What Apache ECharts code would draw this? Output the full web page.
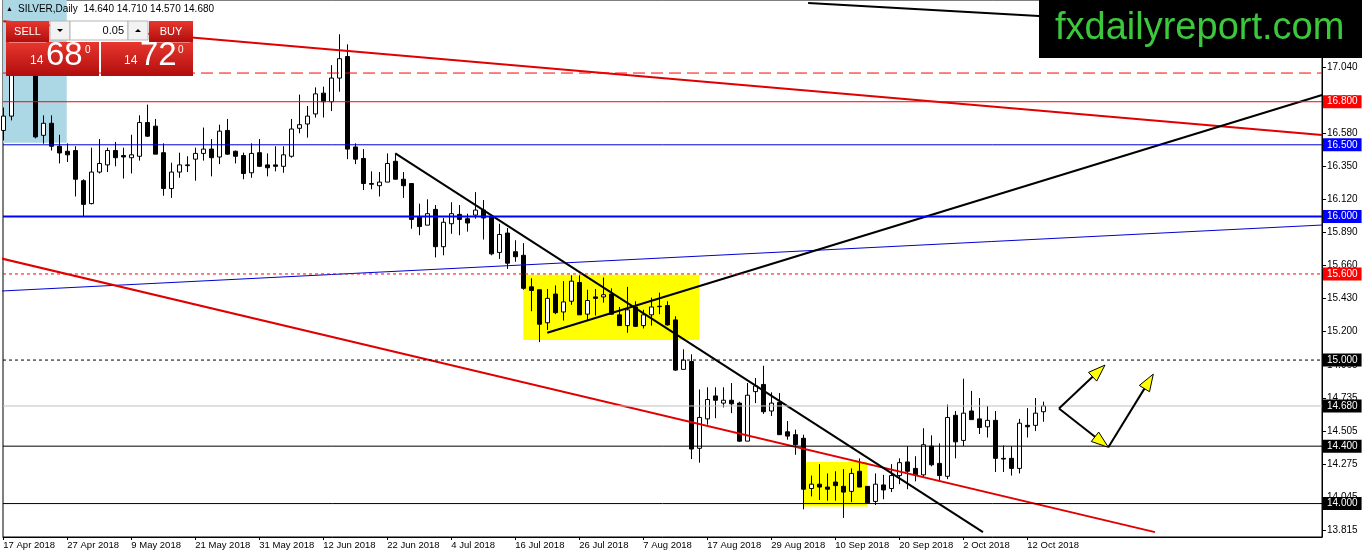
<!DOCTYPE html>
<html>
<head>
<meta charset="utf-8">
<title>SILVER,Daily</title>
<script src="https://cdn.jsdelivr.net/npm/echarts@6/dist/echarts.min.js"></script>
<style>
  html, body { margin: 0; padding: 0; background: #fff; }
  #main { width: 1362px; height: 554px; }
</style>
</head>
<body>
<div id="main"></div>
<script>
// daily bars, index 0 = 17 Apr 2018, last = 16 Oct 2018
var opens = [
  16.60, 16.70, 17.00, 17.15, 17.06, 16.566, 16.65, 16.49, 16.455, 16.46,
  16.25, 16.09, 16.31, 16.36, 16.46, 16.425, 16.41, 16.42, 16.655, 16.63,
  16.445, 16.195, 16.31, 16.355, 16.40, 16.44, 16.47, 16.415, 16.60, 16.455,
  16.425, 16.305, 16.445, 16.36, 16.36, 16.35, 16.42, 16.615, 16.645, 16.715,
  16.86, 16.80, 16.965, 17.115, 16.485, 16.405, 16.23, 16.215, 16.24, 16.385,
  16.26, 16.23, 16.00, 15.94, 16.05, 15.79, 15.95, 16.015, 15.985, 16.01,
  16.045, 16.00, 15.75, 15.885, 15.755, 15.73, 15.51, 15.49, 15.26, 15.46,
  15.335, 15.41, 15.54, 15.32, 15.44, 15.44, 15.46, 15.315, 15.24, 15.37,
  15.24, 15.315, 15.372, 15.38, 15.28, 14.935, 14.99, 14.385, 14.59, 14.75,
  14.70, 14.72, 14.70, 14.435, 14.78, 14.83, 14.645, 14.705, 14.50, 14.48,
  14.455, 14.105, 14.135, 14.115, 14.15, 14.12, 14.085, 14.225, 14.12, 14.015,
  14.13, 14.105, 14.195, 14.29, 14.245, 14.20, 14.40, 14.28, 14.19, 14.615,
  14.44, 14.645, 14.59, 14.535, 14.58, 14.315, 14.315, 14.245, 14.545, 14.545,
  14.64
];
var highs = [
  16.76, 17.10, 17.25, 17.22, 17.12, 16.705, 16.705, 16.57, 16.51, 16.49,
  16.26, 16.48, 16.54, 16.48, 16.52, 16.48, 16.57, 16.705, 16.78, 16.68,
  16.51, 16.375, 16.445, 16.42, 16.48, 16.62, 16.54, 16.64, 16.68, 16.46,
  16.445, 16.51, 16.54, 16.44, 16.49, 16.49, 16.68, 16.85, 16.77, 16.90,
  16.905, 17.055, 17.27, 17.20, 16.51, 16.47, 16.315, 16.31, 16.44, 16.44,
  16.31, 16.23, 16.09, 16.12, 16.08, 15.99, 16.10, 16.08, 16.02, 16.17,
  16.115, 16.01, 15.95, 15.92, 15.835, 15.815, 15.57, 15.49, 15.495, 15.52,
  15.55, 15.59, 15.59, 15.49, 15.495, 15.575, 15.50, 15.37, 15.51, 15.41,
  15.35, 15.435, 15.47, 15.41, 15.305, 15.075, 15.04, 14.795, 14.81, 14.81,
  14.81, 14.84, 14.71, 14.84, 14.875, 14.96, 14.775, 14.77, 14.575, 14.515,
  14.48, 14.195, 14.275, 14.21, 14.225, 14.24, 14.245, 14.315, 14.12, 14.21,
  14.20, 14.275, 14.315, 14.40, 14.33, 14.525, 14.475, 14.42, 14.69, 14.645,
  14.87, 14.785, 14.735, 14.68, 14.645, 14.405, 14.40, 14.59, 14.665, 14.735,
  14.71
];
var lows = [
  16.53, 16.67, 16.99, 17.02, 16.545, 16.508, 16.46, 16.37, 16.38, 16.14,
  16.00, 16.085, 16.30, 16.31, 16.35, 16.265, 16.30, 16.39, 16.555, 16.435,
  16.145, 16.13, 16.27, 16.31, 16.25, 16.39, 16.28, 16.365, 16.43, 16.37,
  16.26, 16.27, 16.345, 16.28, 16.315, 16.305, 16.41, 16.58, 16.55, 16.69,
  16.69, 16.735, 16.87, 16.40, 16.365, 16.185, 16.19, 16.14, 16.24, 16.26,
  16.13, 15.915, 15.87, 15.94, 15.715, 15.73, 15.88, 15.87, 15.895, 15.985,
  15.84, 15.73, 15.705, 15.635, 15.685, 15.49, 15.34, 15.125, 15.21, 15.32,
  15.275, 15.385, 15.315, 15.275, 15.31, 15.40, 15.315, 15.24, 15.19, 15.23,
  15.22, 15.24, 15.32, 15.24, 14.925, 14.935, 14.31, 14.285, 14.55, 14.595,
  14.67, 14.63, 14.43, 14.435, 14.70, 14.625, 14.61, 14.48, 14.445, 14.34,
  13.96, 14.05, 14.025, 14.02, 14.02, 13.90, 14.01, 14.115, 14.00, 13.99,
  14.03, 14.08, 14.135, 14.10, 14.155, 14.18, 14.26, 14.15, 14.17, 14.315,
  14.40, 14.585, 14.485, 14.46, 14.22, 14.22, 14.195, 14.21, 14.46, 14.505,
  14.57
];
var closes = [
  16.70, 17.02, 17.15, 17.06, 16.555, 16.65, 16.49, 16.443, 16.43, 16.26,
  16.085, 16.31, 16.37, 16.46, 16.41, 16.415, 16.43, 16.655, 16.56, 16.435,
  16.195, 16.31, 16.36, 16.36, 16.44, 16.47, 16.41, 16.595, 16.435, 16.42,
  16.30, 16.44, 16.35, 16.34, 16.35, 16.43, 16.61, 16.64, 16.70, 16.855,
  16.80, 16.965, 17.10, 16.47, 16.40, 16.23, 16.225, 16.24, 16.37, 16.26,
  16.215, 15.98, 15.93, 16.02, 15.79, 15.96, 16.02, 15.98, 15.955, 16.045,
  15.99, 15.74, 15.875, 15.675, 15.72, 15.50, 15.485, 15.25, 15.43, 15.33,
  15.405, 15.55, 15.315, 15.415, 15.43, 15.455, 15.32, 15.24, 15.35, 15.235,
  15.315, 15.37, 15.375, 15.245, 14.93, 15.00, 14.38, 14.60, 14.725, 14.72,
  14.72, 14.695, 14.435, 14.755, 14.82, 14.64, 14.70, 14.48, 14.47, 14.41,
  14.10, 14.135, 14.115, 14.10, 14.125, 14.08, 14.21, 14.115, 14.005, 14.135,
  14.095, 14.195, 14.285, 14.225, 14.20, 14.41, 14.27, 14.195, 14.60, 14.43,
  14.63, 14.585, 14.53, 14.58, 14.315, 14.31, 14.245, 14.56, 14.535, 14.63,
  14.68
];

var dateTicks = [0, 8, 16, 24, 32, 40, 48, 56, 64, 72, 80, 88, 96, 104, 112, 120, 128];
var dateLabels = ['17 Apr 2018', '27 Apr 2018', '9 May 2018', '21 May 2018', '31 May 2018',
  '12 Jun 2018', '22 Jun 2018', '4 Jul 2018', '16 Jul 2018', '26 Jul 2018', '7 Aug 2018',
  '17 Aug 2018', '29 Aug 2018', '10 Sep 2018', '20 Sep 2018', '2 Oct 2018', '12 Oct 2018'];
var priceTicks = [13.815, 14.045, 14.275, 14.505, 14.735, 14.965, 15.200, 15.430,
  15.660, 15.890, 16.120, 16.350, 16.580, 16.810, 17.040];

// horizontal levels
var levelPrices = [17.0, 16.8, 16.5, 16.0, 15.6, 15.0, 14.68, 14.4, 14.0];

// trend lines as [bar index, price] end points
var redUpperLine = [[0, 17.361], [164.84, 16.568]];
var redLowerLine = [[-1, 15.718], [143.96, 13.801]];
var blueLine = [[-1, 15.479], [164.84, 15.941]];
var blackUpLine = [[68, 15.19], [164.84, 16.847]];
var blackDownLine = [[49, 16.44], [122.46, 13.801]];
var blackTopLine = [[100.6, 17.488], [140, 17.364]];

// boxes: [from bar, top price, to bar, bottom price]
var blueBoxes = [[-1, 17.6, 7.93, 16.514]];
var yellowBoxes = [[65, 15.595, 87, 15.14], [100, 14.29, 108, 13.98]];

// arrows: [from bar, from price, to bar, to price]
var arrows = [
  [131.96, 14.663, 137.71, 14.965],
  [131.96, 14.663, 138.13, 14.392],
  [138.13, 14.392, 143.75, 14.902]
];

var FONT = "'Liberation Sans', Arial, sans-serif";
var X_MIN = -0.0375, X_MAX = 164.8375;

var candles = opens.map(function (o, i) {
  return [i, o, closes[i], lows[i], highs[i]];
});

var levelStyles = [
  { color: '#ff0000', width: 1, type: [12, 6], label: null },
  { color: '#ff0000', width: 1, type: 'solid', label: '#ff0000' },
  { color: '#0000d0', width: 1, type: 'solid', label: '#0000ff' },
  { color: '#0000ff', width: 2, type: 'solid', label: '#0000ff' },
  { color: '#ff0000', width: 1, type: [3, 3], label: '#ff0000' },
  { color: '#000000', width: 1, type: [3, 3], label: '#000000' },
  { color: '#c0c0c0', width: 1, type: 'solid', label: '#000000' },
  { color: '#000000', width: 1, type: 'solid', label: '#000000' },
  { color: '#000000', width: 1, type: 'solid', label: '#000000' }
];

var levelSeries = levelPrices.map(function (p, i) {
  var s = levelStyles[i];
  return {
    type: 'line', silent: true, symbol: 'none', showSymbol: false, z: 5,
    data: [[X_MIN, p], [X_MAX, p]],
    color: s.color,
    lineStyle: { color: s.color, width: s.width, type: s.type },
    endLabel: s.label ? {
      show: true, distance: 1,
      formatter: function () { return p.toFixed(3); },
      color: '#fff', backgroundColor: s.label,
      fontSize: 10, fontFamily: FONT, lineHeight: 11, padding: [1, 4, 1, 4]
    } : { show: false }
  };
});

function trend(data, color, width) {
  return {
    type: 'line', data: data, showSymbol: false, symbol: 'none', silent: true,
    color: color, lineStyle: { color: color, width: width }, z: 4
  };
}

function boxSeries(data, color) {
  return {
    type: 'custom', data: data, silent: true, z: 1,
    renderItem: function (params, api) {
      var a = api.coord([api.value(0), api.value(1)]);
      var b = api.coord([api.value(2), api.value(3)]);
      var cs = params.coordSys;
      var shape = echarts.graphic.clipRectByRect({
        x: Math.min(a[0], b[0]), y: Math.min(a[1], b[1]),
        width: Math.abs(b[0] - a[0]), height: Math.abs(b[1] - a[1])
      }, { x: cs.x, y: cs.y, width: cs.width, height: cs.height });
      return shape && { type: 'rect', shape: shape, style: { fill: color } };
    }
  };
}

var chart = echarts.init(document.getElementById('main'));

var redGrad = {
  type: 'linear', x: 0, y: 0, x2: 0, y2: 1,
  colorStops: [{ offset: 0, color: '#e8372e' }, { offset: 1, color: '#b10d0d' }]
};

var series = [
  boxSeries(blueBoxes, '#acd8e6'),
  boxSeries(yellowBoxes, '#ffff00'),
  {
    type: 'candlestick',
    data: candles,
    barWidth: 5,
    z: 3,
    itemStyle: {
      color: '#ffffff', color0: '#000000',
      borderColor: '#000000', borderColor0: '#000000', borderWidth: 1
    }
  },
  trend(blueLine, '#0000d0', 1),
  trend(redUpperLine, '#e00000', 2),
  trend(redLowerLine, '#e00000', 2),
  trend(blackUpLine, '#000000', 2),
  trend(blackDownLine, '#000000', 2),
  trend(blackTopLine, '#000000', 2),
  {
    type: 'custom', data: arrows, silent: true, z: 6,
    renderItem: function (params, api) {
      var a = api.coord([api.value(0), api.value(1)]);
      var b = api.coord([api.value(2), api.value(3)]);
      var dx = b[0] - a[0], dy = b[1] - a[1];
      var len = Math.sqrt(dx * dx + dy * dy);
      var ux = dx / len, uy = dy / len;
      var hl = 17, hw = 6;
      var bx = b[0] - ux * hl, by = b[1] - uy * hl;
      return {
        type: 'group',
        children: [
          { type: 'line', shape: { x1: a[0], y1: a[1], x2: bx, y2: by }, style: { stroke: '#000', lineWidth: 2 } },
          { type: 'polygon', shape: { points: [[b[0], b[1]], [bx - uy * hw, by + ux * hw], [bx + uy * hw, by - ux * hw]] },
            style: { fill: '#ffff00', stroke: '#000', lineWidth: 1 } }
        ]
      };
    }
  }
].concat(levelSeries);

var option = {
  animation: false,
  backgroundColor: '#fff',
  grid: { left: 3, right: 40, top: 0, bottom: 17, show: true, borderColor: '#000', borderWidth: 1 },
  xAxis: {
    type: 'value', min: X_MIN, max: X_MAX,
    splitLine: { show: false },
    axisLine: { onZero: false, lineStyle: { color: '#000', width: 1 } },
    axisTick: { show: true, customValues: dateTicks, length: 3, lineStyle: { color: '#000' } },
    axisLabel: {
      customValues: dateTicks, align: 'left', margin: 3, color: '#000',
      fontSize: 9.5, fontFamily: FONT,
      formatter: function (v) { return dateLabels[dateTicks.indexOf(Math.round(v))]; }
    }
  },
  yAxis: {
    type: 'value', position: 'right', min: 13.767, max: 17.509,
    splitLine: { show: false },
    axisLine: { show: true, onZero: false, lineStyle: { color: '#000', width: 1 } },
    axisTick: { show: true, customValues: priceTicks, length: 4, lineStyle: { color: '#000' } },
    axisLabel: {
      customValues: priceTicks, margin: 5, color: '#000', fontSize: 10, fontFamily: FONT,
      formatter: function (v) { return v.toFixed(3); }
    }
  },
  series: series,
  graphic: [
    // header text
    { type: 'text', left: 6, top: 6, z: 100, style: { text: '\u25B2', fill: '#000', font: '7px ' + FONT } },
    { type: 'text', left: 18, top: 4, z: 100, style: { text: 'SILVER,Daily  14.640 14.710 14.570 14.680', fill: '#000', font: '10px ' + FONT } },
    // one-click trading panel
    { type: 'rect', z: 100, shape: { x: 6, y: 21, width: 43, height: 21 }, style: { fill: redGrad } },
    { type: 'text', z: 101, x: 27.5, y: 31.5, style: { text: 'SELL', fill: '#fff', font: '11px ' + FONT, align: 'center', verticalAlign: 'middle' } },
    { type: 'rect', z: 100, shape: { x: 50, y: 21, width: 20, height: 19 }, style: { fill: '#f2f2f2', stroke: '#b5b5b5', lineWidth: 1 } },
    { type: 'polygon', z: 101, shape: { points: [[57, 29], [63, 29], [60, 32]] }, style: { fill: '#000' } },
    { type: 'rect', z: 100, shape: { x: 70, y: 21, width: 58, height: 19 }, style: { fill: '#fff', stroke: '#b5b5b5', lineWidth: 1 } },
    { type: 'text', z: 101, x: 124, y: 30.5, style: { text: '0.05', fill: '#000', font: '11px ' + FONT, align: 'right', verticalAlign: 'middle' } },
    { type: 'rect', z: 100, shape: { x: 128, y: 21, width: 20, height: 19 }, style: { fill: '#f2f2f2', stroke: '#b5b5b5', lineWidth: 1 } },
    { type: 'polygon', z: 101, shape: { points: [[135, 32], [141, 32], [138, 29]] }, style: { fill: '#000' } },
    { type: 'rect', z: 100, shape: { x: 149, y: 21, width: 44, height: 21 }, style: { fill: redGrad } },
    { type: 'text', z: 101, x: 171, y: 31.5, style: { text: 'BUY', fill: '#fff', font: '11px ' + FONT, align: 'center', verticalAlign: 'middle' } },
    { type: 'rect', z: 100, shape: { x: 6, y: 42, width: 93, height: 34 }, style: { fill: redGrad } },
    { type: 'rect', z: 100, shape: { x: 101, y: 42, width: 92, height: 34 }, style: { fill: redGrad } },
    { type: 'line', z: 101, shape: { x1: 9, y1: 42.5, x2: 46, y2: 42.5 }, style: { stroke: '#f08080', lineWidth: 1 } },
    { type: 'line', z: 101, shape: { x1: 153, y1: 42.5, x2: 190, y2: 42.5 }, style: { stroke: '#f08080', lineWidth: 1 } },
    { type: 'text', z: 101, x: 30, y: 61, style: { text: '14', fill: '#fff', font: '12px ' + FONT, verticalAlign: 'middle' } },
    { type: 'text', z: 101, x: 46, y: 56, style: { text: '68', fill: '#fff', font: '33px ' + FONT, verticalAlign: 'middle' } },
    { type: 'text', z: 101, x: 85, y: 50.5, style: { text: '0', fill: '#fff', font: '10px ' + FONT, verticalAlign: 'middle' } },
    { type: 'text', z: 101, x: 124, y: 61, style: { text: '14', fill: '#fff', font: '12px ' + FONT, verticalAlign: 'middle' } },
    { type: 'text', z: 101, x: 140, y: 56, style: { text: '72', fill: '#fff', font: '33px ' + FONT, verticalAlign: 'middle' } },
    { type: 'text', z: 101, x: 178, y: 50.5, style: { text: '0', fill: '#fff', font: '10px ' + FONT, verticalAlign: 'middle' } },
    // site banner
    { type: 'rect', z: 100, shape: { x: 1039, y: 0, width: 323, height: 58 }, style: { fill: '#000' } },
    { type: 'text', z: 101, x: 1055, y: 29, style: { text: 'fxdailyreport.com', fill: '#3cc83c', font: '38px ' + FONT, verticalAlign: 'middle' } }
  ]
};

chart.setOption(option);
</script>
</body>
</html>
